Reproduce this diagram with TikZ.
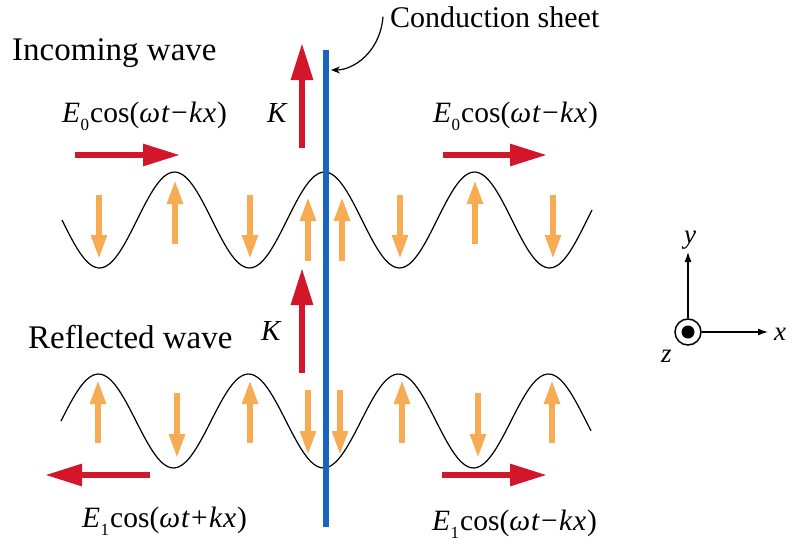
\documentclass[tikz,border=0pt]{standalone}
\usepackage{fontspec}
\setmainfont{Liberation Serif}
\usetikzlibrary{arrows.meta}
\definecolor{sheetblue}{RGB}{25,100,190}
\definecolor{kred}{RGB}{212,22,42}
\definecolor{eorange}{RGB}{247,172,84}
\newcommand{\wavelabel}[2]{\textit{E}\kern0.5pt\raisebox{-0.3em}{\fontsize{17}{17}\selectfont #1}\kern1pt cos(\textit{ω}\kern1pt\textit{t}\kern1.2pt#2\kern1.2pt\textit{k}\kern0.5pt\textit{x}\kern1pt)}
\begin{document}
\begin{tikzpicture}[x=1pt,y=-1pt,
  redarrow/.style={kred, line width=6pt, -{Triangle[length=37pt,width=21pt]}},
  orangearrow/.style={eorange, line width=5.5pt, -{Triangle[length=24pt,width=15pt]}},
  wave/.style={black, line width=1.2pt},
  lbl/.style={inner sep=0pt, anchor=base west},
  biglbl/.style={lbl, font=\fontsize{33}{36}\selectfont},
  eqlbl/.style={lbl, font=\fontsize{29.5}{32}\selectfont},
  axis/.style={black, line width=1.2pt, -{Latex[length=10pt,width=7pt]}}]
\useasboundingbox (0,0) rectangle (793,552);

% orange field arrows (upper wave)
\foreach \xx in {99,250,400,553} \draw[orangearrow] (\xx,195) -- (\xx,259);
\foreach \xx in {175,475} \draw[orangearrow] (\xx,244) -- (\xx,180);
\foreach \xx in {308,342} \draw[orangearrow] (\xx,261) -- (\xx,197);
% orange field arrows (lower wave)
\foreach \xx in {98,250,402,552} \draw[orangearrow] (\xx,443) -- (\xx,380);
\foreach \xx in {177,478} \draw[orangearrow] (\xx,393) -- (\xx,458);
\foreach \xx in {308,340} \draw[orangearrow] (\xx,390) -- (\xx,455);

% waves
\draw[wave] plot[domain=62:592, samples=160, smooth] (\x, {220+48*sin(2.4*(\x-62))});
\draw[wave] plot[domain=61:591, samples=160, smooth] (\x, {421-47*sin(2.4*(\x-61))});

% conduction sheet
\draw[sheetblue, line width=5.5pt] (326,50) -- (326,527);
\coordinate (sheetpt) at (331,70);

% red arrows
\draw[redarrow] (302,148) -- (302,43);
\draw[redarrow] (302,373) -- (302,268);
\draw[redarrow] (75,155) -- (180,155);
\draw[redarrow] (443,155) -- (547,155);
\draw[redarrow] (150,475) -- (45,475);
\draw[redarrow] (442,475) -- (547,475);

% labels
\node[biglbl] (inc) at (12,60) {Incoming wave};
\node[biglbl] (refl) at (28,348) {Reflected wave};
\node[lbl, font=\fontsize{30}{33}\selectfont] (cs) at (390,27) {Conduction sheet};
\draw[line width=1.2pt, -{Stealth[length=9pt,width=7pt]}]
  ([xshift=-7pt]cs.west) .. controls +(-3,36) and +(22,0) .. (sheetpt);
\node[lbl, font=\fontsize{29}{30}\selectfont\itshape] (k1) at (267,122) {K};
\node[lbl, font=\fontsize{29}{30}\selectfont\itshape] (k2) at (261,340) {K};
\node[eqlbl] (e0l) at (62,122) {\wavelabel{0}{−}};
\node[eqlbl] (e0r) at (433,122) {\wavelabel{0}{−}};
\node[eqlbl] (e1l) at (82,527) {\wavelabel{1}{+}};
\node[eqlbl] (e1r) at (432,530) {\wavelabel{1}{−}};

% axes
\node[draw, circle, line width=1.5pt, minimum size=26pt, inner sep=0pt] (orig) at (688,332) {};
\fill (orig.center) circle (6.5pt);
\coordinate (ytip) at (688,252);
\coordinate (xtip) at (768,332);
\draw[axis] (orig.north) -- (ytip);
\draw[axis] (orig.east) -- (xtip);
\node[lbl, font=\fontsize{27}{30}\selectfont\itshape, anchor=base] (ylab) at (690,243) {y};
\node[lbl, font=\fontsize{27}{30}\selectfont\itshape] (xlab) at (774,340) {x};
\node[lbl, font=\fontsize{27}{30}\selectfont\itshape] (zlab) at (661,362) {z};
\end{tikzpicture}
\end{document}
